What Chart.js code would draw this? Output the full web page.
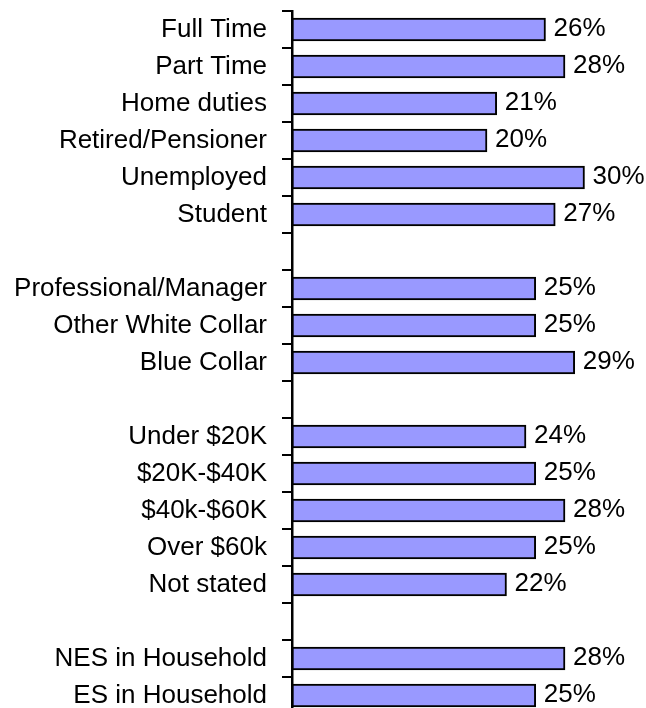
<!DOCTYPE html>
<html>
<head>
<meta charset="utf-8">
<script src="https://cdn.jsdelivr.net/npm/chart.js@4/dist/chart.umd.min.js"></script>
<style>
  html, body { margin: 0; padding: 0; background: #fff; overflow: hidden; }
  #wrap { width: 646px; height: 708px; overflow: hidden; position: relative; }
  canvas { display: block; }
</style>
</head>
<body>
<div id="wrap"><canvas id="c" width="646" height="720" style="width:646px;height:720px"></canvas></div>
<script>
const categories = [
  'Full Time', 'Part Time', 'Home duties', 'Retired/Pensioner', 'Unemployed', 'Student',
  '',
  'Professional/Manager', 'Other White Collar', 'Blue Collar',
  '',
  'Under $20K', '$20K-$40K', '$40k-$60K', 'Over $60k', 'Not stated',
  '',
  'NES in Household', 'ES in Household'
];
const values = [
  26, 28, 21, 20, 30, 27,
  null,
  25, 25, 29,
  null,
  24, 25, 28, 25, 22,
  null,
  28, 25
];
const valueSuffix = '%';

const FONT = '"Liberation Sans", Arial, sans-serif';

const valueLabels = {
  id: 'valueLabels',
  afterDatasetsDraw(chart) {
    const ctx = chart.ctx;
    const meta = chart.getDatasetMeta(0);
    ctx.save();
    ctx.font = '26px ' + FONT;
    ctx.fillStyle = '#000';
    ctx.textAlign = 'left';
    ctx.textBaseline = 'middle';
    meta.data.forEach((bar, i) => {
      const v = values[i];
      if (v === null || v === undefined) return;
      ctx.fillText(v + valueSuffix, bar.x + 8, bar.y - 1);
    });
    ctx.restore();
  }
};

new Chart(document.getElementById('c'), {
  type: 'bar',
  data: {
    labels: categories,
    datasets: [{
      data: values,
      backgroundColor: '#9999FF',
      borderColor: '#000000',
      borderWidth: 2,
      borderSkipped: false,
      barThickness: 23
    }]
  },
  plugins: [valueLabels],
  options: {
    indexAxis: 'y',
    responsive: false,
    animation: false,
    devicePixelRatio: 1,
    layout: { padding: { left: 0, right: 12.75, top: 11, bottom: 6 } },
    plugins: {
      legend: { display: false },
      tooltip: { enabled: false }
    },
    scales: {
      x: {
        display: false,
        min: 0,
        max: 35
      },
      y: {
        type: 'category',
        offset: true,
        afterFit(scale) {
          scale.width = 292;
          scale.paddingTop = 0;
          scale.paddingBottom = 0;
        },
        border: { display: true, color: '#000', width: 2.5 },
        grid: {
          offset: true,
          drawOnChartArea: false,
          drawTicks: true,
          tickLength: 10,
          color: '#000',
          lineWidth: 2
        },
        ticks: {
          autoSkip: false,
          color: '#000',
          padding: 15,
          font: { family: FONT, size: 26 }
        }
      }
    }
  }
});
</script>
</body>
</html>
